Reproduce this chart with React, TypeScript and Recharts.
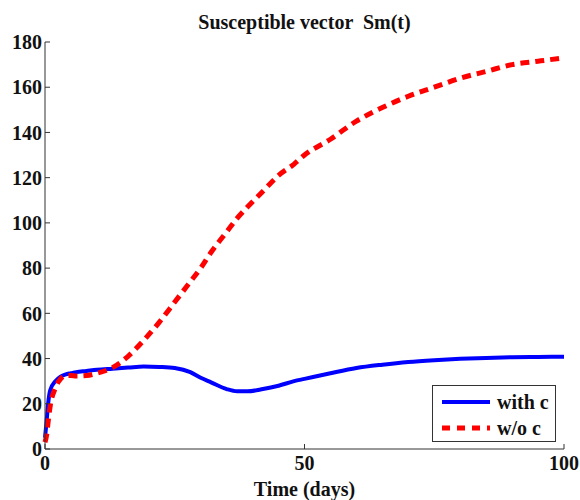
import { CartesianGrid, Legend, Line, LineChart, XAxis, YAxis } from "recharts";

const times = [0, 0.3, 0.6, 1, 2, 3, 4, 5, 6, 8, 10, 13, 16, 19, 22, 25, 28, 30, 32, 35, 37, 39, 42, 45, 48, 50, 55, 60, 65, 70, 75, 80, 85, 90, 95, 100];
const withControl = [5, 12, 20, 26, 30, 32, 33, 33.5, 34, 34.5, 35, 35.5, 36, 36.5, 36.3, 35.8, 34, 31.5, 29.5, 26.5, 25.5, 25.5, 26.5, 28, 30, 31, 33.5, 35.8, 37.3, 38.5, 39.3, 39.9, 40.3, 40.6, 40.7, 40.8];
const withoutControl = [3, 6, 12, 19, 27, 31, 32.5, 32.5, 32.3, 32.5, 33.5, 36, 41, 48, 56, 65, 74, 80, 87, 96, 102, 107, 114, 121, 126, 130, 137, 145, 151, 156, 160, 164, 167, 170, 171.5, 173];
const xTicks = [0, 50, 100];
const yTicks = [0, 20, 40, 60, 80, 100, 120, 140, 160, 180];
const seriesNames = ["with c", "w/o c"];

const data = times.map((t, i) => ({ t, a: withControl[i], b: withoutControl[i] }));

const FONT = "'Liberation Serif', 'Times New Roman', serif";
const textStyle = { fontSize: 20, fontWeight: 700, fill: "#111", fontFamily: FONT };

// serif tick labels
function XTick(props: any) {
  const { x, y, payload } = props;
  return (
    <text x={x} y={y} dy="0.71em" textAnchor="middle" style={textStyle}>
      {payload.value}
    </text>
  );
}

function YTick(props: any) {
  const { x, y, payload } = props;
  return (
    <text x={x} y={y} dy="0.36em" textAnchor="end" style={textStyle}>
      {payload.value}
    </text>
  );
}

function LegendBox() {
  return (
    <div
      style={{
        border: "1px solid #333",
        background: "#fff",
        width: 124,
        height: 57,
        boxSizing: "border-box",
        fontFamily: FONT,
        fontWeight: 700,
        fontSize: 20,
        color: "#111",
        padding: "3px 0 0 9px",
      }}
    >
      {seriesNames.map((name, i) => (
        <div key={name} style={{ display: "flex", alignItems: "center", height: 26 }}>
          <svg width={48} height={10} style={{ marginRight: 7 }}>
            <line
              x1={0}
              y1={5}
              x2={48}
              y2={5}
              stroke={i === 0 ? "#0000ff" : "#ff0000"}
              strokeWidth={i === 0 ? 4 : 5}
              strokeDasharray={i === 0 ? undefined : "8 7"}
            />
          </svg>
          <span>{name}</span>
        </div>
      ))}
    </div>
  );
}

export default function App() {
  return (
    <div style={{ position: "absolute", left: 0, top: 0, width: 580, height: 500, background: "#fff", fontFamily: FONT }}>
      <div
        style={{
          position: "absolute",
          left: 45,
          width: 519,
          top: 11,
          textAlign: "center",
          fontFamily: FONT,
          fontWeight: 700,
          fontSize: 20,
          color: "#111",
          whiteSpace: "pre",
        }}
      >
        {"Susceptible vector  Sm(t)"}
      </div>
      <LineChart width={580} height={500} data={data} margin={{ top: 42, right: 16, bottom: 0, left: 0 }}>
        <CartesianGrid stroke="none" />
        <XAxis
          dataKey="t"
          type="number"
          domain={[0, 100]}
          ticks={xTicks}
          height={51}
          stroke="#333"
          tickSize={-5}
          tickMargin={12}
          tick={<XTick />}
          label={{ value: "Time (days)", position: "insideBottom", offset: 4, style: textStyle }}
        />
        <XAxis
          xAxisId="top"
          dataKey="t"
          type="number"
          orientation="top"
          domain={[0, 100]}
          ticks={xTicks}
          height={0}
          stroke="#333"
          tickSize={-5}
          tickFormatter={() => ""}
        />
        <YAxis
          type="number"
          domain={[0, 180]}
          ticks={yTicks}
          width={45}
          stroke="#333"
          tickSize={-5}
          tickMargin={8}
          tick={<YTick />}
        />
        <YAxis
          yAxisId="right"
          orientation="right"
          type="number"
          domain={[0, 180]}
          ticks={yTicks}
          width={0}
          stroke="#333"
          tickSize={-5}
          tickFormatter={() => ""}
        />
        <Legend
          layout="horizontal"
          verticalAlign="middle"
          align="center"
          content={() => <LegendBox />}
          wrapperStyle={{ left: 432, top: 385, width: 124, height: 57 }}
        />
        <Line dataKey="a" name={seriesNames[0]} type="monotone" stroke="#0000ff" strokeWidth={4} dot={false} isAnimationActive={false} />
        <Line dataKey="b" name={seriesNames[1]} type="monotone" stroke="#ff0000" strokeWidth={5} strokeDasharray="9 6" dot={false} isAnimationActive={false} />
      </LineChart>
    </div>
  );
}
